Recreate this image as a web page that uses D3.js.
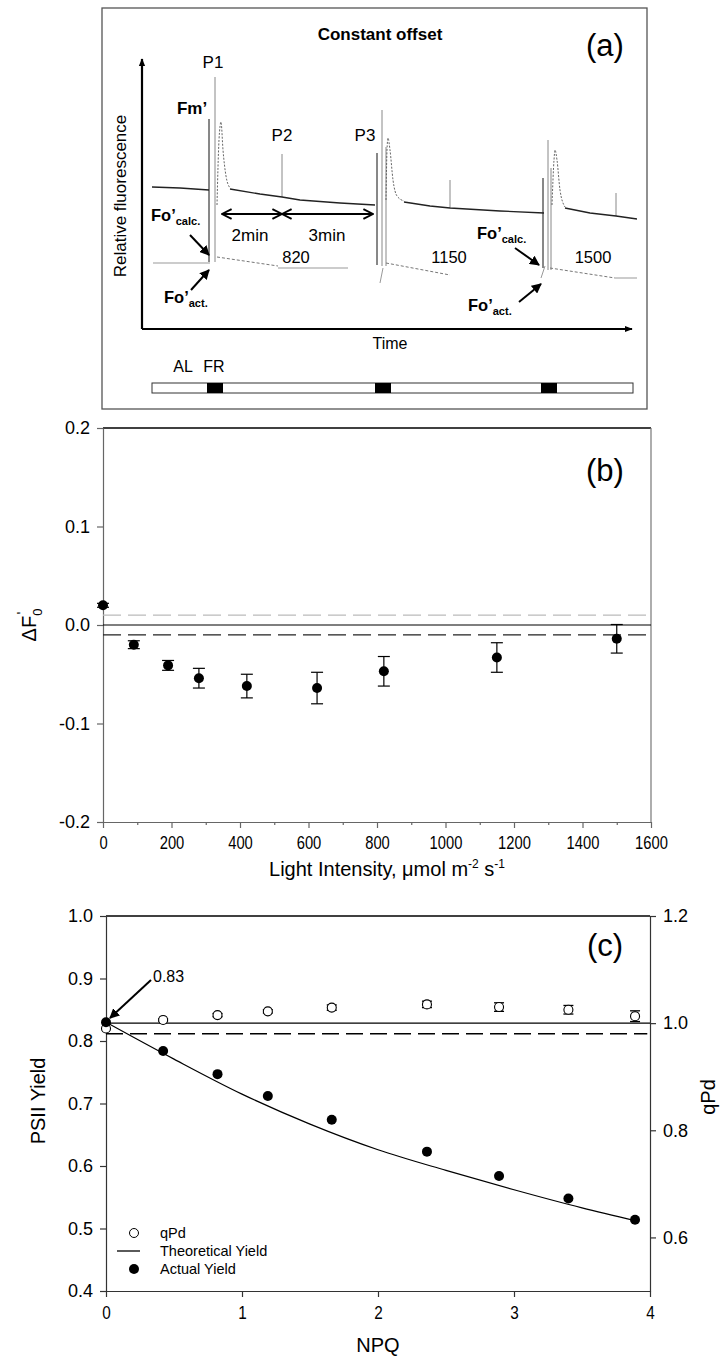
<!DOCTYPE html>
<html>
<head>
<meta charset="utf-8">
<script src="https://d3js.org/d3.v7.min.js"></script>
<style>
  body { margin: 0; background: #fff; }
  svg text { font-family: "Liberation Sans", Arial, sans-serif; fill: #000; }
</style>
</head>
<body>
<svg></svg>
<script>
// ---------- panel (a): schematic trace, in trace units (time, fluorescence) ----------
var traceSolid = [
  [[10,142],[38,141],[67,139]],
  [[88,140],[118,135],[140,132],[158,129],[198,126],[233,124]],
  [[262,127],[288,123],[308,121],[358,118],[402,116]],
  [[423,121],[448,116],[474,113],[495,110]]
];
var traceDecay = [
  [[75,124],[77,189],[79,207],[81,179],[84,153],[88,141]],
  [[244,129],[245,179],[246,191],[248,179],[251,149],[255,133],[262,128]],
  [[410,124],[412,169],[413,179],[415,169],[418,139],[423,122]]
];
// flash lines: time, top, bottom, dark?
var flashLines = [
  [67,210,67,1],[73,252,67,0],[140,175,132,0],
  [235,176,64,1],[240,219,63,0],[244,182,63,0],[308,149,121,0],
  [401,151,61,1],[406,189,59,0],[409,161,59,0],[474,136,113,0]
];
var foSolid = [
  [[11,66],[68,66]], [[136,61],[206,61]], [[473,51],[495,51]],
  [[238,46],[241,61]], [[399,51],[403,63]]
];
var foDashed = [
  [[75,72],[136,63]], [[244,66],[308,54]], [[408,61],[473,51]]
];
var lightLabels = ["820", "1150", "1500"];
var lightLabelTimes = [154, 307, 451];
var peakLabels = ["P1", "P2", "P3"];
var peakLabelTimes = [71, 140, 223];
var peakLabelLevels = [261, 188, 188];
var flashBlocks = [[65,81],[233,249],[399,415]];

// ---------- panel (b) ----------
var lightLevels = [0, 90, 190, 280, 420, 625, 820, 1150, 1500];
var deltaFo     = [0.020, -0.020, -0.041, -0.054, -0.062, -0.064, -0.047, -0.033, -0.014];
var deltaFoErr  = [0.002, 0.004, 0.005, 0.010, 0.012, 0.016, 0.015, 0.015, 0.0145];
var lightTicks = [0, 200, 400, 600, 800, 1000, 1200, 1400, 1600];
var lightMinorTicks = [100, 300, 500, 700, 900, 1100, 1300, 1500];
var deltaTicks = [-0.2, -0.1, 0.0, 0.1, 0.2];
var deltaRefLines = [0.01, -0.01];

// ---------- panel (c) ----------
var npq         = [0, 0.42, 0.82, 1.19, 1.66, 2.36, 2.89, 3.40, 3.89];
var actualYield = [0.830, 0.784, 0.747, 0.712, 0.674, 0.623, 0.584, 0.548, 0.514];
var qPd         = [0.990, 1.006, 1.015, 1.022, 1.029, 1.035, 1.030, 1.025, 1.013];
var qPdErr      = [0, 0.002, 0.003, 0.003, 0.005, 0.006, 0.008, 0.008, 0.010];
var theoNpq   = [0, 0.5, 1, 1.5, 2, 2.5, 3, 3.5, 3.9];
var theoYield = [0.830, 0.771, 0.715, 0.667, 0.626, 0.593, 0.562, 0.533, 0.512];
var npqTicks = [0, 1, 2, 3, 4];
var yieldTicks = [0.4, 0.5, 0.6, 0.7, 0.8, 0.9, 1.0];
var qPdTicks = [0.6, 0.8, 1.0, 1.2];
var qPdRefSolid = 1.0, qPdRefDashed = 0.98;

var svg = d3.select("svg").attr("width", 727).attr("height", 1360);
var fmt1 = function(d) { return d.toFixed(1); };

// =============== panel (a) ===============
var xA = d3.scaleLinear().domain([0, 495]).range([142, 637]);
var yA = d3.scaleLinear().domain([0, 276]).range([329, 53]);
var lineA = d3.line().x(function(d) { return xA(d[0]); }).y(function(d) { return yA(d[1]); });

var defs = svg.append("defs");
defs.append("marker").attr("id", "headFill")
    .attr("viewBox", "0 0 10 10").attr("refX", 9).attr("refY", 5)
    .attr("markerWidth", 5).attr("markerHeight", 5).attr("orient", "auto")
  .append("path").attr("d", "M0,0 L10,5 L0,10 Z").attr("fill", "#000");
defs.append("marker").attr("id", "headBig")
    .attr("viewBox", "0 0 10 10").attr("refX", 9).attr("refY", 5)
    .attr("markerWidth", 8).attr("markerHeight", 8).attr("markerUnits", "userSpaceOnUse")
    .attr("orient", "auto")
  .append("path").attr("d", "M0,1 L10,5 L0,9 Z").attr("fill", "#000");
defs.append("marker").attr("id", "chev")
    .attr("viewBox", "0 0 10 10").attr("refX", 9).attr("refY", 5)
    .attr("markerWidth", 12).attr("markerHeight", 12).attr("markerUnits", "userSpaceOnUse")
    .attr("orient", "auto-start-reverse")
  .append("path").attr("d", "M1,1 L9,5 L1,9").attr("fill", "none")
    .attr("stroke", "#000").attr("stroke-width", 1.6);

var gA = svg.append("g");
gA.append("rect").attr("x", 102).attr("y", 8).attr("width", 545).attr("height", 401)
    .attr("fill", "none").attr("stroke", "#555").attr("stroke-width", 1.3);

gA.append("text").attr("x", 380).attr("y", 40).attr("text-anchor", "middle")
    .attr("font-size", 17).attr("font-weight", "bold").text("Constant offset");
gA.append("text").attr("x", 605).attr("y", 56).attr("text-anchor", "middle")
    .attr("font-size", 31).text("(a)");

// axes with arrows
gA.append("line").attr("x1", xA(0)).attr("y1", yA(0)).attr("x2", xA(0)).attr("y2", yA(270))
    .attr("stroke", "#000").attr("stroke-width", 2.2).attr("marker-end", "url(#headBig)");
gA.append("line").attr("x1", xA(0)).attr("y1", yA(0)).attr("x2", xA(490)).attr("y2", yA(0))
    .attr("stroke", "#000").attr("stroke-width", 2.2).attr("marker-end", "url(#headBig)");

gA.append("text").attr("transform", "translate(126,196) rotate(-90)").attr("text-anchor", "middle")
    .attr("font-size", 17).text("Relative fluorescence");
gA.append("text").attr("x", 390).attr("y", 349).attr("text-anchor", "middle")
    .attr("font-size", 16).text("Time");

// flash lines
gA.selectAll("line.flash").data(flashLines).enter().append("line")
    .attr("x1", function(d) { return xA(d[0]); }).attr("x2", function(d) { return xA(d[0]); })
    .attr("y1", function(d) { return yA(d[1]); }).attr("y2", function(d) { return yA(d[2]); })
    .attr("stroke", function(d) { return d[3] ? "#111" : "#888"; })
    .attr("stroke-width", 1);

// trace
gA.selectAll("path.trace").data(traceSolid).enter().append("path")
    .attr("d", lineA).attr("fill", "none").attr("stroke", "#222").attr("stroke-width", 1.3);
gA.selectAll("path.decay").data(traceDecay).enter().append("path")
    .attr("d", lineA.curve(d3.curveMonotoneX)).attr("fill", "none")
    .attr("stroke", "#555").attr("stroke-width", 0.9).attr("stroke-dasharray", "2,1.5");
lineA.curve(d3.curveLinear);

// Fo' level lines
gA.selectAll("path.fos").data(foSolid).enter().append("path")
    .attr("d", lineA).attr("fill", "none").attr("stroke", "#999").attr("stroke-width", 1);
gA.selectAll("path.fod").data(foDashed).enter().append("path")
    .attr("d", lineA).attr("fill", "none").attr("stroke", "#777").attr("stroke-width", 1)
    .attr("stroke-dasharray", "3,2");

// labels
gA.append("text").attr("x", 192).attr("y", 114).attr("text-anchor", "middle")
    .attr("font-size", 17).attr("font-weight", "bold").text("Fm\u2019");
peakLabels.forEach(function(p, i) {
  gA.append("text").attr("x", xA(peakLabelTimes[i])).attr("y", yA(peakLabelLevels[i]))
      .attr("text-anchor", "middle").attr("font-size", 17).text(p);
});
lightLabels.forEach(function(p, i) {
  gA.append("text").attr("x", xA(lightLabelTimes[i])).attr("y", 263)
      .attr("text-anchor", "middle").attr("font-size", 16.5).text(p);
});

function foLabel(x, y, sub) {
  var t = gA.append("text").attr("x", x).attr("y", y).attr("font-size", 16.5).attr("font-weight", "bold");
  t.append("tspan").text("Fo\u2019");
  t.append("tspan").attr("dy", 4).attr("font-size", 11).text(sub);
}
foLabel(151, 221, "calc.");
foLabel(164, 303, "act.");
foLabel(477, 239, "calc.");
foLabel(468, 311, "act.");

function arrow(x1, y1, x2, y2, g) {
  g.append("line").attr("x1", x1).attr("y1", y1).attr("x2", x2).attr("y2", y2)
      .attr("stroke", "#000").attr("stroke-width", 2).attr("marker-end", "url(#headFill)");
}
arrow(190, 235, 209, 255, gA);
arrow(191, 290, 209, 270, gA);
arrow(515, 248, 539, 265, gA);
arrow(519, 302, 541, 284, gA);

// time interval arrows
gA.append("line").attr("x1", xA(80)).attr("x2", xA(140)).attr("y1", 214).attr("y2", 214)
    .attr("stroke", "#000").attr("stroke-width", 2)
    .attr("marker-start", "url(#chev)").attr("marker-end", "url(#chev)");
gA.append("line").attr("x1", xA(140)).attr("x2", xA(231)).attr("y1", 214).attr("y2", 214)
    .attr("stroke", "#000").attr("stroke-width", 2)
    .attr("marker-start", "url(#chev)").attr("marker-end", "url(#chev)");
gA.append("text").attr("x", xA(108)).attr("y", 241).attr("text-anchor", "middle")
    .attr("font-size", 17).text("2min");
gA.append("text").attr("x", xA(185)).attr("y", 241).attr("text-anchor", "middle")
    .attr("font-size", 17).text("3min");

// illumination bar
gA.append("rect").attr("x", xA(10)).attr("y", 383).attr("width", xA(491) - xA(10)).attr("height", 10)
    .attr("fill", "#fff").attr("stroke", "#333").attr("stroke-width", 1);
gA.selectAll("rect.fr").data(flashBlocks).enter().append("rect")
    .attr("x", function(d) { return xA(d[0]); }).attr("y", 383)
    .attr("width", function(d) { return xA(d[1]) - xA(d[0]); }).attr("height", 10)
    .attr("fill", "#000");
gA.append("text").attr("x", 183).attr("y", 372).attr("text-anchor", "middle").attr("font-size", 16).text("AL");
gA.append("text").attr("x", 214).attr("y", 372).attr("text-anchor", "middle").attr("font-size", 16).text("FR");

// =============== panel (b) ===============
var xB = d3.scaleLinear().domain([0, 1600]).range([103, 651]);
var yB = d3.scaleLinear().domain([-0.2, 0.2]).range([822, 428]);
var gB = svg.append("g");

// frame
gB.append("line").attr("x1", xB(0)).attr("x2", xB(1600)).attr("y1", yB(0.2)).attr("y2", yB(0.2))
    .attr("stroke", "#000").attr("stroke-width", 1.5);
gB.append("line").attr("x1", xB(1600)).attr("x2", xB(1600)).attr("y1", yB(0.2)).attr("y2", yB(-0.2))
    .attr("stroke", "#777").attr("stroke-width", 1.2);

gB.append("g").attr("class", "xax").attr("transform", "translate(0," + yB(-0.2) + ")")
    .call(d3.axisBottom(xB).tickValues(lightTicks).tickSize(6).tickSizeOuter(0).tickPadding(8)
      .tickFormat(d3.format("d")));
gB.append("g").attr("transform", "translate(0," + yB(-0.2) + ")")
    .call(d3.axisBottom(xB).tickValues(lightMinorTicks).tickSize(3).tickFormat(""))
  .select(".domain").remove();
gB.append("g").attr("transform", "translate(" + xB(0) + ",0)")
    .call(d3.axisLeft(yB).tickValues(deltaTicks).tickSize(6).tickSizeOuter(0).tickPadding(7).tickFormat(fmt1));
gB.selectAll(".domain, .tick line").attr("stroke", "#666").attr("stroke-width", 1.2);
gB.selectAll(".tick text").attr("font-size", 18).attr("font-family", "Liberation Sans, Arial, sans-serif");
gB.selectAll(".xax .tick text").attr("font-size", 18).attr("transform", "scale(0.82,1)");

// reference lines
gB.append("line").attr("x1", xB(0)).attr("x2", xB(1600)).attr("y1", yB(0)).attr("y2", yB(0))
    .attr("stroke", "#000").attr("stroke-width", 1.2);
gB.selectAll("line.ref").data(deltaRefLines).enter().append("line")
    .attr("x1", xB(0)).attr("x2", xB(1600))
    .attr("y1", function(d) { return yB(d); }).attr("y2", function(d) { return yB(d); })
    .attr("stroke", function(d) { return d > 0 ? "#bbb" : "#222"; })
    .attr("stroke-width", 1.2).attr("stroke-dasharray", "18,7");

// error bars + points
lightLevels.forEach(function(L, i) {
  var x = xB(L), y1 = yB(deltaFo[i] + deltaFoErr[i]), y2 = yB(deltaFo[i] - deltaFoErr[i]);
  gB.append("line").attr("x1", x).attr("x2", x).attr("y1", y1).attr("y2", y2).attr("stroke", "#000").attr("stroke-width", 1.2);
  [y1, y2].forEach(function(yy) {
    gB.append("line").attr("x1", x - 6).attr("x2", x + 6).attr("y1", yy).attr("y2", yy)
        .attr("stroke", "#000").attr("stroke-width", 1.2);
  });
});
gB.selectAll("circle").data(lightLevels).enter().append("circle")
    .attr("cx", function(d) { return xB(d); })
    .attr("cy", function(d, i) { return yB(deltaFo[i]); })
    .attr("r", 5).attr("fill", "#000");

gB.append("text").attr("x", 605).attr("y", 481).attr("text-anchor", "middle").attr("font-size", 31).text("(b)");
var ylB = gB.append("text").attr("transform", "translate(36,625) rotate(-90)").attr("text-anchor", "middle")
    .attr("font-size", 20);
ylB.append("tspan").text("\u0394F");
ylB.append("tspan").attr("dy", 6).attr("font-size", 13).text("0");
ylB.append("tspan").attr("dy", -15).attr("dx", -6).attr("font-size", 15).text("'");
var xlB = gB.append("text").attr("x", 387).attr("y", 876).attr("text-anchor", "middle").attr("font-size", 20);
xlB.append("tspan").text("Light Intensity, \u03bcmol m");
xlB.append("tspan").attr("dy", -8).attr("font-size", 12).text("-2");
xlB.append("tspan").attr("dy", 8).text(" s");
xlB.append("tspan").attr("dy", -8).attr("font-size", 12).text("-1");

// =============== panel (c) ===============
var xC = d3.scaleLinear().domain([0, 4]).range([106, 650]);
var yC = d3.scaleLinear().domain([0.4, 1.0]).range([1291, 916]);
var yQ = d3.scaleLinear().domain([0.5, 1.2]).range([1291, 916]);
var gC = svg.append("g");

gC.append("line").attr("x1", xC(0)).attr("x2", xC(4)).attr("y1", yC(1.0)).attr("y2", yC(1.0))
    .attr("stroke", "#000").attr("stroke-width", 1.3);
gC.append("g").attr("class", "xax").attr("transform", "translate(0," + yC(0.4) + ")")
    .call(d3.axisBottom(xC).tickValues(npqTicks).tickSize(6).tickSizeOuter(0).tickPadding(9).tickFormat(d3.format("d")));
gC.append("g").attr("transform", "translate(" + xC(0) + ",0)")
    .call(d3.axisLeft(yC).tickValues(yieldTicks).tickSize(6).tickSizeOuter(0).tickPadding(7).tickFormat(fmt1));
gC.append("g").attr("transform", "translate(" + xC(4) + ",0)")
    .call(d3.axisRight(yQ).tickValues(qPdTicks).tickSize(6).tickSizeOuter(0).tickPadding(7).tickFormat(fmt1));
gC.selectAll(".domain, .tick line").attr("stroke", "#333").attr("stroke-width", 1.2);
gC.selectAll(".tick text").attr("font-size", 18).attr("font-family", "Liberation Sans, Arial, sans-serif");
gC.selectAll(".xax .tick text").attr("transform", "scale(0.85,1)");

// reference lines
gC.append("line").attr("x1", xC(0)).attr("x2", xC(4)).attr("y1", yQ(qPdRefSolid)).attr("y2", yQ(qPdRefSolid))
    .attr("stroke", "#000").attr("stroke-width", 1.3);
gC.append("line").attr("x1", xC(0)).attr("x2", xC(3.98)).attr("y1", yQ(qPdRefDashed)).attr("y2", yQ(qPdRefDashed))
    .attr("stroke", "#000").attr("stroke-width", 1.5).attr("stroke-dasharray", "17,7");

// theoretical yield
var lineC = d3.line().x(function(d) { return xC(d); }).y(function(d, i) { return yC(theoYield[i]); })
    .curve(d3.curveMonotoneX);
gC.append("path").datum(theoNpq).attr("d", lineC).attr("fill", "none").attr("stroke", "#000").attr("stroke-width", 1.2);

// qPd error bars and open circles
npq.forEach(function(n, i) {
  if (!qPdErr[i]) return;
  var x = xC(n), y1 = yQ(qPd[i] + qPdErr[i]), y2 = yQ(qPd[i] - qPdErr[i]);
  gC.append("line").attr("x1", x).attr("x2", x).attr("y1", y1).attr("y2", y2).attr("stroke", "#000");
  [y1, y2].forEach(function(yy) {
    gC.append("line").attr("x1", x - 5).attr("x2", x + 5).attr("y1", yy).attr("y2", yy)
        .attr("stroke", "#000").attr("stroke-width", 1.3);
  });
});
gC.selectAll("circle.q").data(npq).enter().append("circle")
    .attr("cx", function(d) { return xC(d); })
    .attr("cy", function(d, i) { return yQ(qPd[i]); })
    .attr("r", 4.5).attr("fill", "#fff").attr("stroke", "#000").attr("stroke-width", 1.1);
gC.selectAll("circle.y").data(npq).enter().append("circle")
    .attr("cx", function(d) { return xC(d); })
    .attr("cy", function(d, i) { return yC(actualYield[i]); })
    .attr("r", 5).attr("fill", "#000");

// annotation 0.83
function fmt2(v) { return v.toFixed(2); }
gC.append("line").attr("x1", 151).attr("y1", 980).attr("x2", 110).attr("y2", 1018)
    .attr("stroke", "#000").attr("stroke-width", 2).attr("marker-end", "url(#headFill)");
gC.append("text").attr("x", 153).attr("y", 982).attr("font-size", 16).text(fmt2(actualYield[0]));

gC.append("text").attr("x", 605).attr("y", 956).attr("text-anchor", "middle").attr("font-size", 31).text("(c)");
gC.append("text").attr("transform", "translate(45,1101) rotate(-90)").attr("text-anchor", "middle")
    .attr("font-size", 20).text("PSII Yield");
gC.append("text").attr("transform", "translate(715,1097) rotate(-90)").attr("text-anchor", "middle")
    .attr("font-size", 20).text("qPd");
gC.append("text").attr("x", 378).attr("y", 1352).attr("text-anchor", "middle")
    .attr("font-size", 20).text("NPQ");

// legend
var leg = gC.append("g");
leg.append("circle").attr("cx", 134).attr("cy", 1233).attr("r", 4.5).attr("fill", "#fff").attr("stroke", "#000");
leg.append("line").attr("x1", 117).attr("x2", 140).attr("y1", 1251).attr("y2", 1251).attr("stroke", "#000").attr("stroke-width", 1.3);
leg.append("circle").attr("cx", 134).attr("cy", 1269).attr("r", 5).attr("fill", "#000");
[["qPd", 1233], ["Theoretical Yield", 1251], ["Actual Yield", 1269]].forEach(function(d) {
  leg.append("text").attr("x", 160).attr("y", d[1] + 5).attr("font-size", 14.5).text(d[0]);
});
</script>
</body>
</html>
